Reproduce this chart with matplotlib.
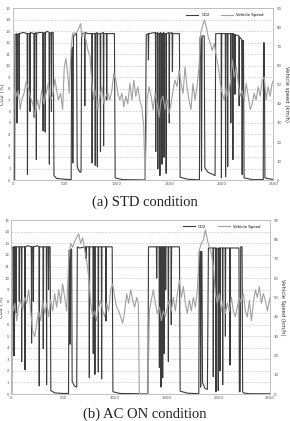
import matplotlib
matplotlib.use("Agg")
import matplotlib.pyplot as plt
import numpy as np

# ---- (a) STD condition ----
std_co2_t = [0, 18, 22, 36, 40, 44, 58, 61, 64, 100, 138, 141, 145, 163, 166, 169,
             203, 206, 209, 223, 226, 229, 250, 288, 291, 294, 308, 311, 314, 330,
             348, 351, 354, 368, 371, 374, 388, 395, 420, 500, 560,
             565, 572, 576, 582, 612, 618, 630, 645, 655, 660, 688, 691, 694, 720,
             758, 761, 764, 788, 791, 794, 808, 811, 814, 838, 841, 844, 868, 871,
             874, 898, 901, 904, 975, 982, 1050, 1270,
             1280, 1298, 1301, 1304, 1368, 1371, 1374, 1388, 1391, 1394, 1408, 1411,
             1414, 1428, 1431, 1434, 1448, 1451, 1454, 1468, 1471, 1474, 1498, 1501,
             1504, 1528, 1531, 1534, 1598, 1605, 1680, 1790,
             1796, 1806, 1810, 1816, 1836, 1842, 1870, 1920, 1940, 1946, 1970, 1998,
             2001, 2004, 2038, 2041, 2044, 2058, 2061, 2064, 2088, 2091, 2094, 2108,
             2111, 2114, 2128, 2131, 2134, 2168, 2171, 2174, 2195, 2200, 2205, 2212,
             2218, 2300, 2402, 2405, 2412, 2418, 2500]
std_co2 = [0, 0, 12.7, 12.8, 5.0, 12.7, 12.8, 7.5, 12.8, 12.9, 12.8, 0.5, 12.8, 12.8, 6.0, 12.9,
           12.8, 5.5, 12.8, 12.9, 1.8, 12.8, 12.9, 12.9, 4.3, 12.8, 12.9, 4.2, 12.9, 13.0,
           12.9, 1.4, 12.8, 12.9, 6.0, 12.9, 12.9, 0.4, 0.15, 0.08, 0.05,
           11.5, 11.6, 1.5, 12.6, 12.8, 1.2, 0.9, 0.7, 0.7, 12.8, 12.8, 6.5, 12.9, 12.8,
           12.8, 1.5, 12.8, 12.8, 1.3, 12.8, 12.9, 1.2, 12.8, 12.8, 2.5, 12.8, 12.9, 3.0,
           12.8, 12.8, 7.0, 12.8, 12.8, 0.2, 0.05, 0.02,
           12.7, 12.8, 10.5, 12.8, 12.9, 2.5, 12.8, 12.9, 1.0, 12.8, 12.8, 0.4,
           12.9, 12.8, 1.4, 12.8, 12.9, 2.0, 12.8, 12.8, 0.6, 12.8, 12.9, 5.0,
           12.8, 12.9, 9.5, 12.8, 12.8, 0.25, 0.08, 0.03,
           12.5, 12.4, 0.8, 12.6, 12.6, 1.1, 0.7, 0.5, 0.4, 12.8, 12.8, 12.8,
           0.2, 12.8, 12.8, 0.3, 12.8, 12.8, 1.2, 12.8, 12.8, 5.0, 12.8, 12.8,
           1.8, 12.8, 12.7, 7.5, 12.7, 12.6, 6.5, 12.5, 12.3, 0.5, 12.2, 12.2,
           0.2, 0.05, 0.05, 12.0, 12.0, 0.2, 0.05]

std_spd_t = [0, 22, 38, 54, 70, 86, 108, 128, 150, 172, 191, 214, 236, 255, 277, 300,
             319, 341, 364, 383, 405, 421, 437, 459, 478, 494, 510, 526, 542, 558,
             574, 596, 619, 638, 651, 663, 682, 702, 721, 740, 759, 778, 797, 816,
             836, 855, 874, 893, 912, 931, 950, 969, 989, 1008, 1027, 1046, 1065,
             1084, 1103, 1123, 1142, 1161, 1180, 1199, 1218, 1237, 1256, 1269, 1288,
             1307, 1327, 1346, 1365, 1384, 1403, 1422, 1441, 1461, 1480, 1499, 1518,
             1537, 1556, 1575, 1595, 1614, 1633, 1652, 1671, 1690, 1709, 1728, 1748,
             1767, 1786, 1802, 1818, 1837, 1856, 1875, 1894, 1913, 1933, 1952, 1971,
             1990, 2009, 2028, 2047, 2066, 2086, 2105, 2124, 2143, 2162, 2181, 2200,
             2220, 2239, 2258, 2277, 2296, 2315, 2334, 2353, 2373, 2392, 2411, 2430,
             2449, 2468, 2487, 2500]
std_spd = [40, 48, 44, 47, 37, 42, 45.5, 51.5, 48, 43, 40, 33, 42, 37, 47, 40,
           45.5, 50.7, 42, 44.6, 53, 47, 42, 45.5, 37, 59.4, 63.8, 56, 45.5, 68,
           77, 77, 77.8, 80.4, 82, 75, 77.8, 73.4, 68, 64.7, 50.7, 42, 47, 37,
           44, 49, 40, 44, 45.5, 42, 47, 56, 52.4, 45.5, 42, 45.5, 38.5,
           44, 40, 50.7, 42, 52.4, 44, 49, 42, 38.5, 28, 0, 42,
           49, 44, 37, 45.5, 40, 33, 42, 44, 37, 42, 35, 40,
           47, 52.4, 49, 57.7, 50.7, 45.5, 59.4, 49, 42, 37, 50.7, 42,
           49, 59.4, 77, 80.4, 84, 80.4, 75, 71.7, 68, 71.7, 64.7, 59.4,
           50.7, 45.5, 42, 49, 44, 50.7, 63, 54, 59.4, 50.7, 44, 47,
           42, 50.7, 44, 37, 40, 45.5, 42, 49, 44, 52.4, 54, 42,
           49, 44, 50.7, 52.4]

# ---- (b) AC ON condition ----
ac_co2_t = [0, 4, 7, 23, 26, 29, 42, 45, 48, 74, 77, 80, 97, 100, 103, 129, 132, 135,
            160, 193, 196, 199, 210, 213, 216, 250, 267, 270, 273, 306, 309, 312,
            338, 341, 344, 357, 360, 363, 375, 382, 420, 500, 553,
            558, 565, 568, 572, 583, 588, 610, 632, 638, 660, 719, 722, 725, 751, 754,
            757, 789, 792, 795, 805, 808, 811, 838, 841, 844, 870, 873, 876, 912,
            915, 918, 975, 982, 1050, 1320,
            1326, 1402, 1405, 1408, 1428, 1431, 1434, 1444, 1447, 1450, 1460, 1463,
            1466, 1473, 1476, 1479, 1489, 1492, 1495, 1515, 1518, 1521, 1543, 1546,
            1549, 1625, 1632, 1700, 1812,
            1817, 1826, 1830, 1836, 1842, 1848, 1870, 1895, 1905, 1949, 1952, 1955,
            1975, 1978, 1981, 1997, 2000, 2003, 2014, 2017, 2020, 2040, 2043, 2046,
            2066, 2069, 2072, 2111, 2114, 2117, 2200, 2204, 2212, 2217, 2230, 2236,
            2242, 2300, 2500]
ac_co2 = [0, 0, 12.6, 12.7, 3.3, 12.7, 12.7, 7.0, 12.7, 12.7, 8.0, 12.7, 12.7, 2.8, 12.7, 12.7, 2.1, 12.7,
          12.8, 12.7, 4.4, 12.7, 12.7, 8.0, 12.7, 12.8, 12.7, 0.7, 12.7, 12.7, 3.9, 12.7,
          12.7, 0.8, 12.7, 12.7, 9.0, 12.7, 12.7, 0.3, 0.1, 0.05, 0.05,
          12.4, 12.4, 4.3, 12.5, 12.5, 1.1, 0.7, 0.6, 12.7, 12.6, 12.7, 11.7, 12.7, 12.7, 1.4,
          12.7, 12.7, 3.5, 12.7, 12.7, 1.7, 12.7, 12.7, 1.9, 12.7, 12.7, 1.3, 12.7, 12.7,
          6.3, 12.7, 12.7, 0.2, 0.05, 0.02,
          12.7, 12.7, 10.0, 12.7, 12.7, 2.3, 12.7, 12.7, 0.6, 12.7, 12.7, 1.4,
          12.7, 12.7, 3.5, 12.7, 12.7, 9.0, 12.7, 12.7, 2.8, 12.7, 12.7, 6.0,
          12.7, 12.7, 0.25, 0.08, 0.03,
          12.3, 12.3, 0.6, 12.3, 12.3, 1.0, 0.5, 0.4, 12.6, 12.6, 1.5, 12.6,
          12.6, 0.2, 12.6, 12.5, 0.3, 12.6, 12.6, 2.0, 12.6, 12.6, 0.8, 12.6,
          12.6, 5.0, 12.6, 12.6, 2.5, 12.6, 12.6, 0.2, 0.2, 12.7, 12.7, 0.2,
          0.1, 0.03, 0.02]

ac_spd_t = [0, 6, 19, 35, 52, 68, 90, 110, 129, 148, 168, 187, 206, 226, 245, 264,
            284, 303, 322, 342, 361, 380, 400, 419, 438, 458, 477, 496, 516, 535,
            554, 574, 593, 612, 632, 651, 670, 690, 709, 728, 748, 767, 786, 806,
            825, 844, 864, 883, 902, 922, 941, 960, 980, 999, 1018, 1038, 1057,
            1076, 1096, 1115, 1134, 1154, 1173, 1192, 1212, 1228, 1237, 1321, 1334,
            1353, 1373, 1392, 1411, 1431, 1450, 1469, 1489, 1508, 1527, 1546, 1566,
            1585, 1605, 1624, 1643, 1663, 1682, 1701, 1721, 1740, 1759, 1779, 1798,
            1817, 1837, 1856, 1875, 1895, 1914, 1933, 1953, 1972, 1991, 2011, 2030,
            2049, 2069, 2088, 2107, 2127, 2146, 2165, 2185, 2204, 2223, 2243, 2262,
            2281, 2301, 2320, 2339, 2359, 2378, 2397, 2417, 2436, 2455, 2475, 2500]
ac_spd = [40, 48.6, 43, 47, 38, 45, 48.6, 43, 50, 47, 54, 43, 33, 29.7, 36.6, 43,
          38, 48.6, 41.7, 47, 40, 48.6, 43, 52, 45, 54, 47, 57, 50, 43,
          69, 78, 76, 79, 81, 83, 78, 81, 74.5, 69, 60.7, 47, 40, 43,
          38, 45, 48.6, 43, 40, 47, 43, 54, 57, 50, 45, 43, 40,
          36.6, 43, 52, 47, 54, 48.6, 45, 50, 47, 0, 0, 43,
          48.6, 54, 47, 41.7, 45, 38, 43, 40, 45, 48.6, 43, 50,
          43, 52, 59, 50, 55.7, 47, 41.7, 48.6, 43, 50, 45, 54,
          74.5, 78, 79.7, 85, 79.7, 76, 72.8, 66, 52, 47, 52, 43,
          48.6, 41.7, 47, 43, 50, 43, 40, 45, 50, 47, 52, 43,
          40, 48.6, 38, 47, 54, 50, 55.7, 47, 52, 48.6, 43, 50]

panels = [
    ([0.044, 0.572, 0.899, 0.408], std_co2_t, std_co2, std_spd_t, std_spd,
     "Vehicle speed (km/h)", "(a) STD condition", 0.520, "center"),
    ([0.039, 0.064, 0.892, 0.413], ac_co2_t, ac_co2, ac_spd_t, ac_spd,
     "Vehicle Speed (km/h)", "(b) AC ON condition", 0.001, "bottom"),
]

fig = plt.figure(figsize=(2.9, 4.21), dpi=100)
tick_fs = 2.8

for rect, ct, cv, st, sv, rlabel, caption, cap_y, cap_va in panels:
    ax = fig.add_axes(rect)
    ax.plot(ct, cv, color="#3c3c3c", lw=0.8, label="CO2")
    ax.set_xlim(0, 2500)
    ax.set_ylim(0, 15)
    ax.set_yticks(range(0, 16))
    ax.set_xticks(range(0, 2501, 500))
    ax.yaxis.grid(True, color="#c0c0c0", lw=0.45, ls=(0, (3, 2)))
    ax.tick_params(labelsize=tick_fs, length=0, pad=1.5, colors="#555555")
    ax.set_ylabel("CO2 (%)", fontsize=3.8, labelpad=0.5, color="#333333")
    for s in ax.spines.values():
        s.set_color("#bbbbbb")
        s.set_linewidth(0.5)

    ax2 = ax.twinx()
    ax2.plot(st, sv, color="#a0a0a0", lw=0.8, label="Vehicle Speed")
    ax2.set_ylim(0, 90)
    ax2.set_yticks(range(0, 91, 10))
    ax2.tick_params(labelsize=tick_fs, length=0, pad=2.5, colors="#555555")
    ax2.set_ylabel(rlabel, fontsize=3.8, rotation=270, labelpad=5, color="#333333")
    for s in ax2.spines.values():
        s.set_color("#bbbbbb")
        s.set_linewidth(0.5)

    h1, l1 = ax.get_legend_handles_labels()
    h2, l2 = ax2.get_legend_handles_labels()
    ax2.legend(h1 + h2, l1 + l2, loc="upper right", ncol=2, frameon=False,
               fontsize=2.8, handlelength=3, columnspacing=3,
               bbox_to_anchor=(0.98, 1.0), borderaxespad=0.8)

    fig.text(0.5, cap_y, caption, ha="center", va=cap_va,
             family="Liberation Serif", fontsize=10.5, color="#222222")

fig.savefig("out.png", dpi=100)
